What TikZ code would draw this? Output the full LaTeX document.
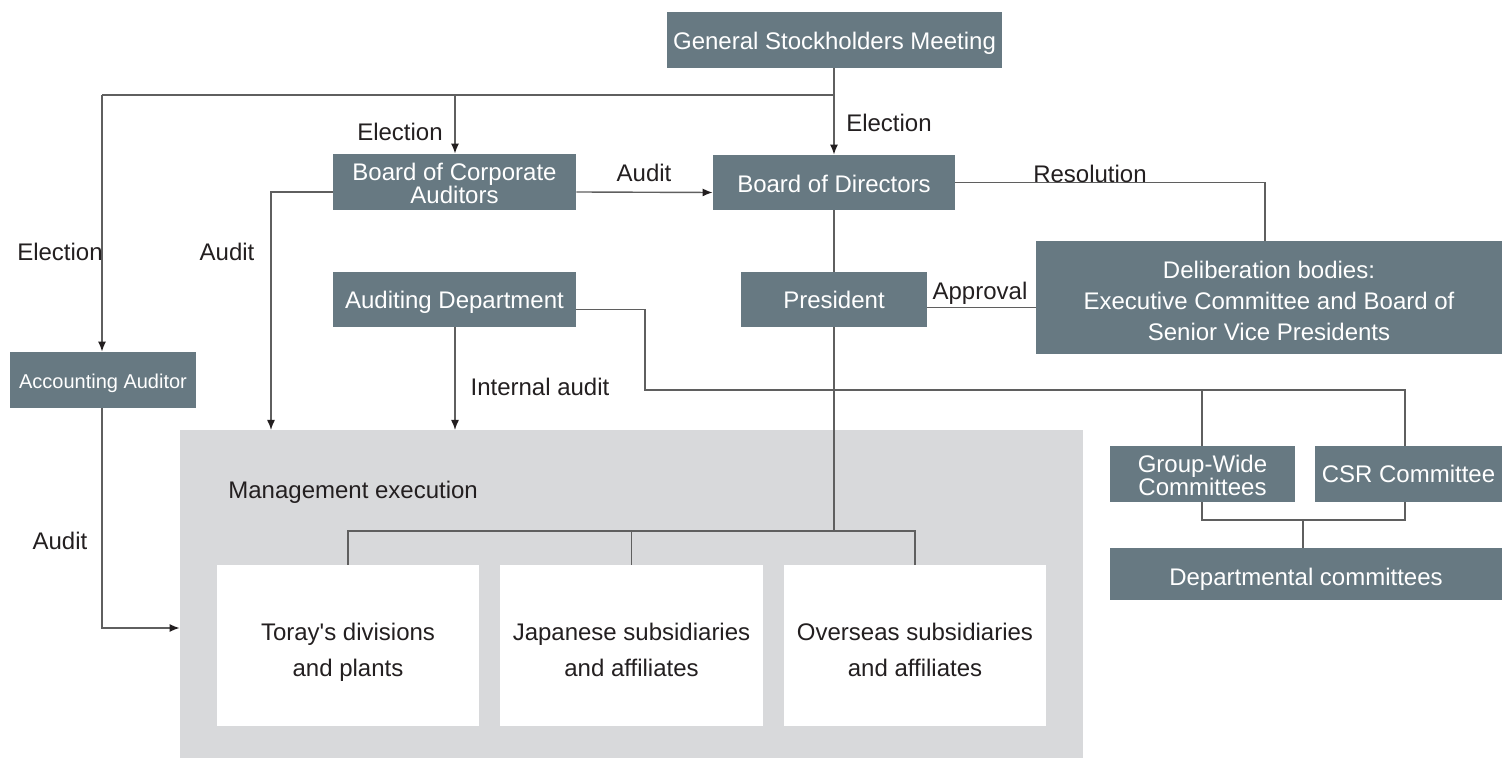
\documentclass[tikz,border=0pt]{standalone}
\usepackage{fontspec}
\setmainfont{Liberation Sans}
\usetikzlibrary{arrows.meta,positioning}
\definecolor{boxgray}{RGB}{103,121,130}
\definecolor{mgmtgray}{RGB}{216,217,219}
\definecolor{linegray}{RGB}{95,95,95}
\definecolor{labelcol}{RGB}{35,31,32}
\tikzset{
  box/.style={fill=boxgray, inner sep=0pt},
  boxtext/.style={text=white, inner sep=0pt, align=center, font=\fontsize{12pt}{11.5pt}\selectfont},
  whitebox/.style={fill=white, inner sep=0pt},
  whitetext/.style={text=labelcol, inner sep=0pt, align=center, font=\fontsize{12pt}{18pt}\selectfont},
  conn/.style={draw=linegray, line width=0.7pt},
  arr/.style={conn, arrows={-{Latex[length=5pt,width=4pt,color=labelcol]}}},
  lbl/.style={text=labelcol, inner sep=0pt, font=\fontsize{12pt}{14pt}\selectfont}
}
\begin{document}
\begin{tikzpicture}[x=0.5pt,y=-0.5pt]
\useasboundingbox (0,0) rectangle (1506,758);
% management execution area
\node[fill=mgmtgray, minimum width=451.5pt, minimum height=164pt, inner sep=0pt] (mgmt) at (631.5,594) {};
\node[lbl, anchor=west] (mgmtlbl) at (228,492) {Management execution};
% white boxes
\node[whitebox, minimum width=131pt, minimum height=80.5pt] (toray) at (348,645.5) {};
\node[whitebox, minimum width=131.5pt, minimum height=80.5pt] (jap) at (631.5,645.5) {};
\node[whitebox, minimum width=131pt, minimum height=80.5pt] (over) at (915,645.5) {};
\node[whitetext] (torayt) at ([yshift=-3.5pt]toray.center) {Toray\textquotesingle s divisions\\and plants};
\node[whitetext] (japt) at ([yshift=-2pt]jap.center) {Japanese subsidiaries\\and affiliates};
\node[whitetext] (overt) at ([yshift=-2pt]over.center) {Overseas subsidiaries\\and affiliates};
% grey boxes
\node[box, minimum width=167.5pt, minimum height=28pt] (gsm) at (834.5,40) {};
\node[box, minimum width=121.5pt, minimum height=28pt] (bca) at (454.5,182) {};
\node[box, minimum width=121pt, minimum height=27.5pt] (bod) at (834,182.5) {};
\node[box, minimum width=233pt, minimum height=56.5pt] (delib) at (1269,297.5) {};
\node[box, minimum width=93pt, minimum height=27.5pt] (pres) at (834,299.5) {};
\node[box, minimum width=121.5pt, minimum height=27.5pt] (ad) at (454.5,299.5) {};
\node[box, minimum width=93pt, minimum height=28pt] (acc) at (103,380) {};
\node[box, minimum width=92.5pt, minimum height=28pt] (gw) at (1202.5,474) {};
\node[box, minimum width=93.5pt, minimum height=28pt] (csr) at (1408.5,474) {};
\node[box, minimum width=196pt, minimum height=26pt] (dept) at (1306,574) {};
\node[boxtext] (gsmt) at ([yshift=-1.5pt]gsm.center) {General Stockholders Meeting};
\node[boxtext] (bcat) at ([yshift=-0.5pt]bca.center) {Board of Corporate\\Auditors};
\node[boxtext] (bodt) at ([yshift=-0.5pt]bod.center) {Board of Directors};
\node[boxtext, font=\fontsize{12pt}{15.5pt}\selectfont] (delibt) at ([yshift=-1.5pt]delib.center) {Deliberation bodies:\\Executive Committee and Board of\\Senior Vice Presidents};
\node[boxtext] (prest) at (pres.center) {President};
\node[boxtext] (adt) at ([yshift=-1.5pt]ad.center) {Auditing Department};
\node[boxtext, font=\fontsize{10pt}{12pt}\selectfont] (acct) at ([yshift=-1.5pt]acc.center) {Accounting Auditor};
\node[boxtext] (gwt) at ([yshift=-0.5pt]gw.center) {Group-Wide\\Committees};
\node[boxtext] (csrt) at (csr.center) {CSR Committee};
\node[boxtext] (deptt) at ([yshift=-2.5pt]dept.center) {Departmental committees};
% coordinates
\coordinate (top) at (834,95);
\coordinate (topbca) at (455,95);
\coordinate (topacc) at (102,95);
\coordinate (auditin) at (271,430);
\coordinate (iain) at (455,430);
\coordinate (brk) at (834,531);
\coordinate (adturn) at (645,390);
\coordinate (gwbr) at (1202,390);
\coordinate (csrbr) at (1405,390);
\coordinate (botgw) at (1202,520);
\coordinate (botcsr) at (1405,520);
\coordinate (botmid) at (1303,520);
\coordinate (accbot) at (102,628);
% connectors
\draw[conn] (gsm.south -| top) -- (top);
\draw[arr] (top) -- (bod.north -| top);
\draw[conn] (top) -- (topacc);
\draw[arr] (topacc) -- (acc.north -| topacc);
\draw[arr] (topbca) -- (bca.north -| topbca);
\draw[arr] ([yshift=-5pt]bca.east) -- ([yshift=-5pt]bod.west);
\draw[arr] ([yshift=-5pt]bca.west) -| (auditin);
\draw[conn] (bod.east) -| ([xshift=-2pt]delib.north);
\draw[conn] (bod.south) -- (pres.north);
\draw[conn] ([yshift=-4pt]pres.east) -- ([yshift=-4pt]pres.east -| delib.west);
\draw[conn] (pres.south) -- (brk);
\draw[conn] (toray.north) |- (brk) -| (over.north);
\draw[conn] (jap.north) -- (jap.north |- brk);
\draw[arr] (ad.south -| iain) -- (iain);
\draw[conn] ([yshift=-5pt]ad.east) -| (adturn) -- (csrbr) -- (csr.north -| csrbr);
\draw[conn] (gwbr) -- (gw.north -| gwbr);
\draw[conn] (gw.south -| botgw) -- (botgw) -- (botcsr) -- (csr.south -| botcsr);
\draw[conn] (botmid) -- (dept.north -| botmid);
\draw[arr] (acc.south -| accbot) -- (accbot) -- (accbot -| mgmt.west);
% labels
\node[lbl] (l1) at (400,132) {Election};
\node[lbl] (l2) at (889,123) {Election};
\node[lbl] (l3) at (60,252) {Election};
\node[lbl] (l4) at (644,173) {Audit};
\node[lbl] (l5) at (227,252) {Audit};
\node[lbl] (l6) at (60,541) {Audit};
\node[lbl] (l7) at (1090,174) {Resolution};
\node[lbl] (l8) at (980,293) {Approval};
\node[lbl] (l9) at (540,387) {Internal audit};
\end{tikzpicture}
\end{document}
